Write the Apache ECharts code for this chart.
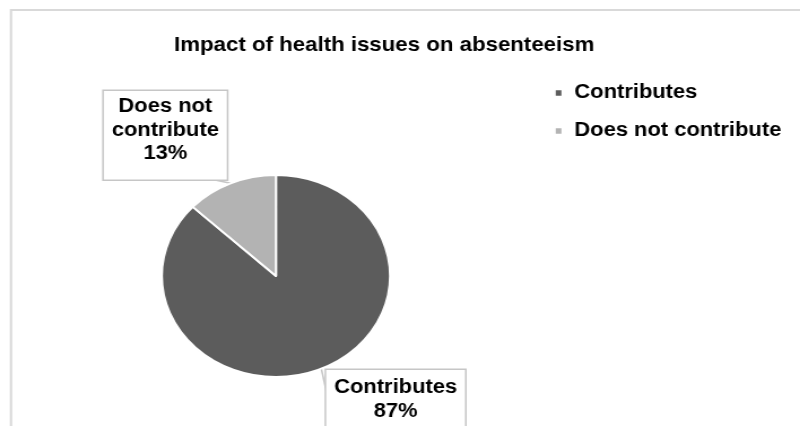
<!DOCTYPE html>
<html>
<head>
<meta charset="utf-8">
<script src="https://cdn.jsdelivr.net/npm/echarts@6/dist/echarts.min.js"></script>
<style>
html,body{margin:0;padding:0;background:#fff;overflow:hidden;}
#main{width:708px;height:426px;transform:scaleX(1.13);transform-origin:0 0;}
</style>
</head>
<body>
<div id="main"></div>
<script>
const titleText = 'Impact of health issues on absenteeism';
const categories = ['Contributes', 'Does not contribute'];
const values = [87, 13];
const colors = ['#5c5c5c', '#b3b3b3'];

const FONT = "'Liberation Sans', Arial, sans-serif";
const labelPos = [
  {x: 350.1, y: 370, padding: [6, 7, 30, 7], lineEnd: [289.3, 394]},
  {x: 146.3, y: 91, padding: [4, 7, 14, 7], lineEnd: [186, 179]}
];

const chart = echarts.init(document.getElementById('main'));
chart.setOption({
  animation: false,
  backgroundColor: '#fff',
  graphic: [{
    type: 'rect',
    shape: {x: 9.7, y: 10, width: 800, height: 600},
    style: {fill: 'none', stroke: '#d9d9d9', lineWidth: 2},
    silent: true
  }],
  title: {
    text: titleText,
    left: 340,
    top: 35.5,
    padding: 0,
    textAlign: 'center',
    textStyle: {fontFamily: FONT, fontWeight: 'bold', fontSize: 19.7, color: '#000'}
  },
  legend: {
    orient: 'vertical',
    left: 489.8,
    top: 83,
    padding: 0,
    itemGap: 18,
    itemWidth: 7,
    itemHeight: 7.5,
    icon: 'rect',
    data: categories,
    textStyle: {fontFamily: FONT, fontWeight: 'bold', fontSize: 19.4, color: '#000', lineHeight: 20, padding: [0, 0, 0, 5.5]}
  },
  series: [{
    type: 'pie',
    center: [244.2, 276],
    radius: 101,
    startAngle: 90,
    clockwise: true,
    itemStyle: {borderColor: '#fff', borderWidth: 2},
    label: {
      show: true,
      fontFamily: FONT,
      fontWeight: 'bold',
      fontSize: 19.4,
      lineHeight: 23.5,
      color: '#000',
      backgroundColor: '#fff',
      borderColor: '#c6c6c6',
      borderWidth: 1.5,
      formatter: p => p.name.replace('Does not ', 'Does not\n') + '\n' + Math.round(p.percent) + '%'
    },
    labelLine: {show: true, lineStyle: {color: '#c6c6c6', width: 1.5}},
    labelLayout: p => {
      const L = labelPos[p.dataIndex];
      const start = p.labelLinePoints ? p.labelLinePoints[0] : L.lineEnd;
      return {x: L.x, y: L.y, align: 'center', verticalAlign: 'top',
        labelLinePoints: [start, L.lineEnd, L.lineEnd]};
    },
    data: categories.map((c, i) => ({
      name: c,
      value: values[i],
      itemStyle: {color: colors[i]},
      label: {padding: labelPos[i].padding}
    }))
  }]
});
</script>
</body>
</html>
